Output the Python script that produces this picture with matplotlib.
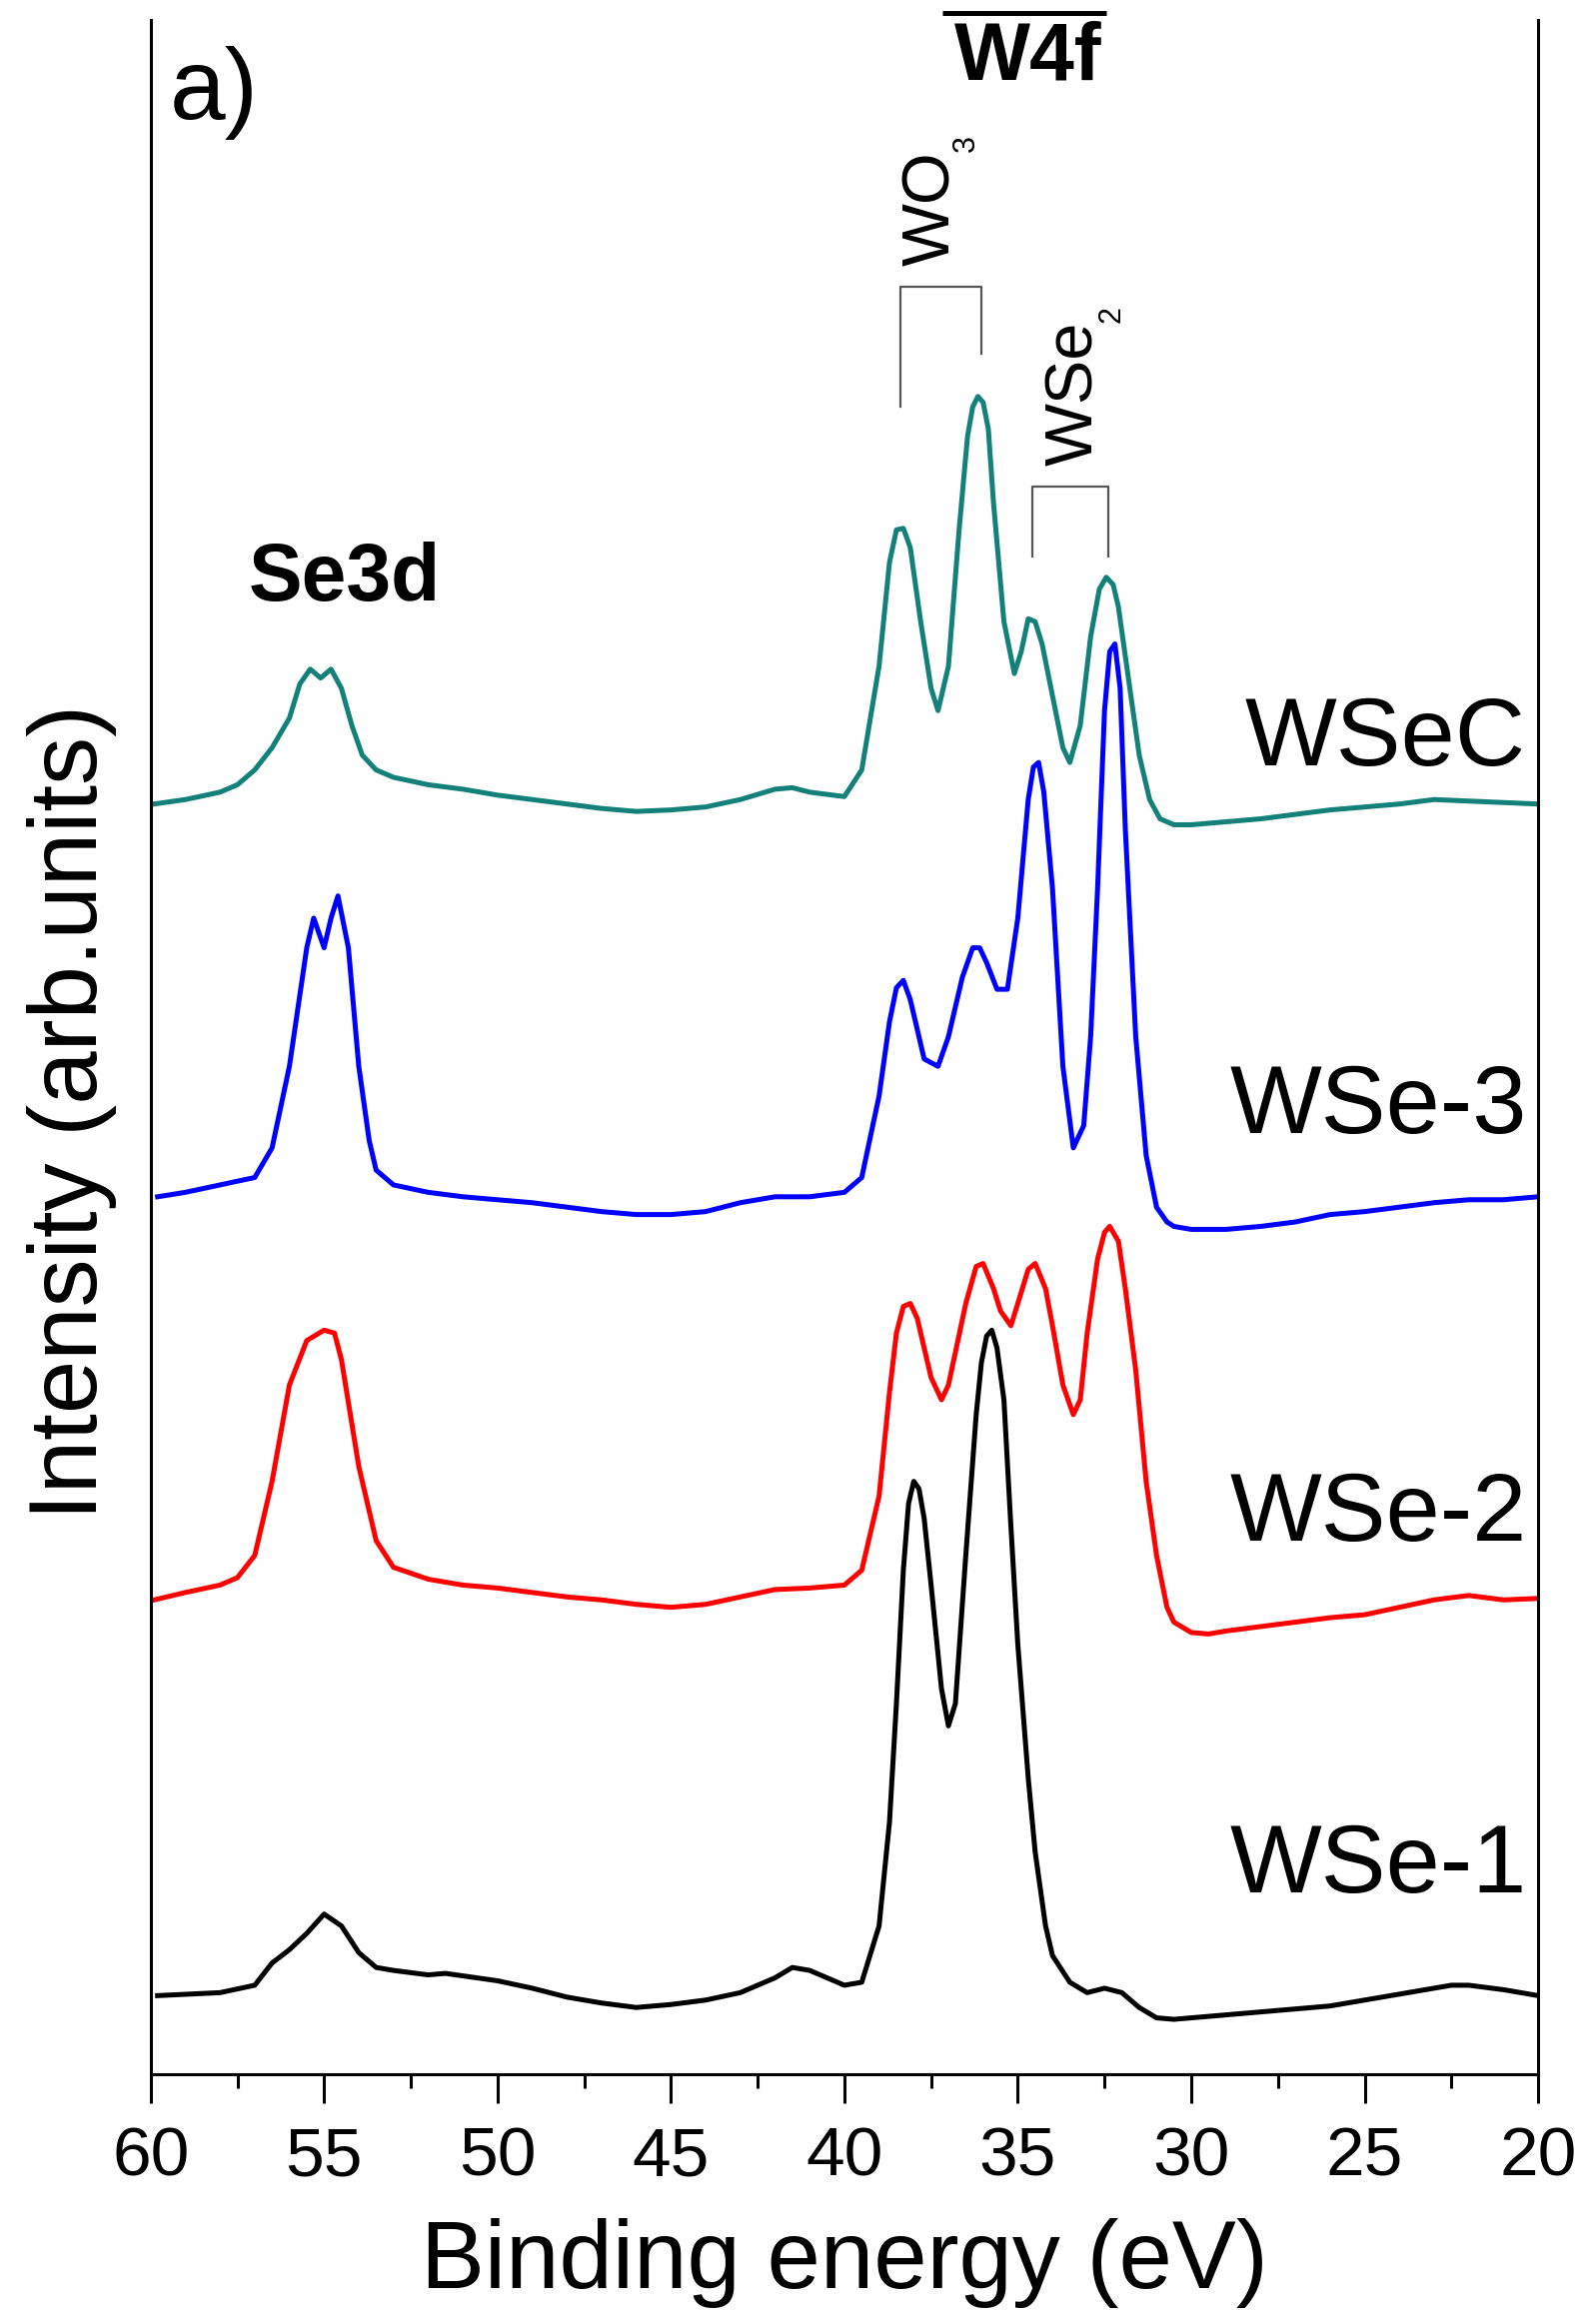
import matplotlib
matplotlib.use("Agg")
import matplotlib.pyplot as plt
from matplotlib.ticker import MultipleLocator

plt.rcParams['font.family'] = ['Liberation Sans', 'DejaVu Sans']

# spectra (binding energy in eV, stacked intensity in arb. units)
e_wse1 = [59.8, 58, 57, 56.5, 56, 55.5, 55, 54.5, 54, 53.5, 53, 52, 51.5, 50, 49, 48, 47, 46, 45,
          44, 43, 42, 41.5, 41, 40.5, 40, 39.5, 39, 38.7, 38.5, 38.3, 38.15, 38, 37.85, 37.7, 37.5,
          37.2, 37, 36.8, 36.5, 36.2, 36.05, 35.9, 35.75, 35.6, 35.4, 35.2, 35, 34.7, 34.5, 34.2,
          34, 33.5, 33, 32.5, 32, 31.5, 31, 30.5, 30, 29, 28, 27, 26, 25, 24, 23, 22.5, 22, 21, 20]
i_wse1 = [53, 55, 60, 75, 84, 95, 108, 100, 82, 72, 70, 67, 68, 63, 58, 52, 48, 45, 47,
          50, 55, 65, 72, 70, 65, 60, 62, 100, 170, 250, 340, 385, 400, 395, 375, 330,
          260, 235, 250, 350, 445, 480, 498, 502, 490, 455, 370, 290, 200, 150, 100,
          80, 62, 55, 58, 55, 45, 38, 37, 38, 40, 42, 44, 46, 50, 54, 58, 60, 60, 57, 53]

e_wse2 = [59.9, 59, 58, 57.5, 57, 56.5, 56, 55.5, 55, 54.7, 54.5, 54, 53.5, 53, 52, 51, 50, 49, 48,
          47, 46, 45, 44, 43, 42, 41, 40, 39.5, 39, 38.7, 38.5, 38.3, 38.1, 37.9, 37.5, 37.2, 37,
          36.5, 36.2, 36, 35.7, 35.5, 35.2, 35, 34.7, 34.5, 34.2, 34, 33.7, 33.4, 33.2, 33, 32.7,
          32.5, 32.35, 32.1, 31.9, 31.6, 31.3, 31, 30.7, 30.5, 30, 29.5, 29, 28, 27, 26, 25, 24, 23,
          22, 21, 20]
i_wse2 = [320, 325, 330, 335, 350, 400, 465, 495, 502, 500, 482, 410, 360, 342, 334, 330, 328, 325, 322,
          320, 317, 315, 317, 322, 327, 328, 330, 340, 390, 460, 500, 518, 520, 510, 470, 455, 465,
          520, 545, 547, 530, 515, 505, 520, 543, 547, 530, 505, 465, 445, 455, 500, 550,
          568, 572, 562, 530, 475, 400, 350, 315, 305, 298, 297, 299, 302, 305, 308, 310, 315, 320,
          323, 320, 321]

e_wse3 = [59.8, 59, 58, 57, 56.5, 56, 55.5, 55.3, 55, 54.8, 54.6, 54.3, 54, 53.7, 53.5, 53, 52, 51, 50,
          49, 48, 47, 46, 45, 44, 43, 42, 41, 40, 39.5, 39, 38.7, 38.5, 38.3, 38.1, 37.7, 37.3, 37,
          36.6, 36.3, 36.1, 35.9, 35.6, 35.3, 35, 34.7, 34.55, 34.4, 34.25, 34, 33.7, 33.4, 33.1,
          32.9, 32.7, 32.5, 32.35, 32.2, 32.05, 31.9, 31.6, 31.3, 31, 30.7, 30.5, 30, 29, 28, 27, 26,
          25, 24, 23, 22, 21, 20]
i_wse3 = [592, 595, 600, 605, 625, 680, 760, 780, 760, 780, 795, 760, 680, 630, 610, 600, 595, 592, 590,
          588, 585, 582, 580, 580, 582, 588, 592, 592, 595, 605, 660, 710, 733, 738, 725, 685, 680, 700,
          740, 760, 760, 750, 732, 732, 780, 860, 882, 885, 865, 800, 680, 625, 640,
          700, 800, 920, 960, 965, 935, 840, 700, 620, 585, 575, 572, 570, 570, 572, 575, 580,
          582, 585, 588, 590, 590, 592]

e_wsec = [59.9, 59, 58, 57.5, 57, 56.5, 56, 55.7, 55.4, 55.1, 54.8, 54.5, 54.2, 53.9, 53.5, 53, 52, 51,
          50, 49, 48, 47, 46, 45, 44, 43, 42, 41.5, 41, 40, 39.5, 39, 38.7, 38.5, 38.3, 38.1, 37.8,
          37.5, 37.3, 37, 36.7, 36.45, 36.3, 36.15, 36, 35.85, 35.7, 35.4, 35.1, 34.9, 34.7, 34.5,
          34.3, 34, 33.7, 33.5, 33.2, 32.9, 32.65, 32.45, 32.25, 32.1, 31.8, 31.5, 31.2, 30.9, 30.5,
          30, 29, 28, 27, 26, 25, 24, 23, 22, 21, 20]
i_wsec = [857, 860, 865, 870, 880, 895, 915, 938, 948, 942, 948, 935, 910, 890, 880, 875, 870, 867,
          863, 860, 857, 854, 852, 853, 855, 860, 867, 868, 865, 862, 880, 950, 1020, 1042, 1043, 1030,
          980, 935, 920, 950, 1040, 1105, 1125, 1132, 1128, 1110, 1060, 980, 945, 960, 982, 980,
          965, 930, 895, 885, 910, 970, 1002, 1010, 1005, 990, 940, 890, 860, 847, 843,
          843, 845, 847, 850, 853, 855, 857, 860, 859, 858, 857]

names = ['WSe-1', 'WSe-2', 'WSe-3', 'WSeC']
colors = ['black', '#ff0000', '#0000ff', '#13807a']
energies = [e_wse1, e_wse2, e_wse3, e_wsec]
intens = [i_wse1, i_wse2, i_wse3, i_wsec]
label_pos = [(28.9, 123), (28.9, 360), (28.9, 635), (28.45, 883)]

fig = plt.figure(figsize=(15.87, 23.26), dpi=100)
ax = fig.add_axes([0.0950, 0.1075, 0.8748, 0.8839])

for e, i, c in zip(energies, intens, colors):
    ax.plot(e, i, color=c, lw=3.6, solid_joinstyle='round')

ax.set_xlim(60, 20)
ax.set_ylim(0, 1386)
ax.set_xticks(range(60, 19, -5))
ax.xaxis.set_minor_locator(MultipleLocator(2.5))
ax.set_yticks([])
ax.spines['top'].set_visible(False)
for s in ['left', 'right', 'bottom']:
    ax.spines[s].set_linewidth(2.2)
ax.tick_params(axis='x', which='major', direction='out', length=21, width=2.2,
               labelsize=50, pad=16)
ax.tick_params(axis='x', which='minor', direction='out', length=10, width=2.2)

# sample names
for n, (x, y) in zip(names, label_pos):
    ax.text(x, y, n, fontsize=70, ha='left', va='baseline')

ax.text(59.45, 1319, 'a)', fontsize=72, ha='left', va='baseline')
ax.text(54.4, 994, 'Se3d', fontsize=58, fontweight='bold', ha='center', va='baseline')
ax.text(34.7, 1346, 'W4f', fontsize=58, fontweight='bold', ha='center', va='baseline')
ax.plot([37.17, 32.44], [1391, 1391], color='black', lw=3.6, clip_on=False,
        solid_capstyle='butt')

# WO3 / WSe2 assignments
gray = '#555555'
ax.text(36.97, 1220, 'WO', fontsize=48, rotation=90, rotation_mode='anchor',
        ha='left', va='baseline')
ax.text(36.25, 1297, '3', fontsize=22, rotation=90, rotation_mode='anchor',
        ha='left', va='baseline')
ax.plot([38.38, 38.38, 36.05, 36.05], [1125, 1206, 1206, 1161], color=gray, lw=1.6)

ax.text(32.85, 1085, 'WSe', fontsize=48, rotation=90, rotation_mode='anchor',
        ha='left', va='baseline')
ax.text(32.07, 1182, '2', fontsize=22, rotation=90, rotation_mode='anchor',
        ha='left', va='baseline')
ax.plot([34.58, 34.58, 32.39, 32.39], [1024, 1071, 1071, 1024], color=gray, lw=1.6)

fig.text(845 / 1587, 1 - 2290 / 2326, 'Binding energy (eV)', fontsize=69,
         ha='center', va='baseline')
fig.text(97 / 1587, 1 - 1113 / 2326, 'Intensity (arb.units)', fontsize=69,
         rotation=90, rotation_mode='anchor', ha='center', va='baseline')

fig.savefig('out.png', dpi=100)
